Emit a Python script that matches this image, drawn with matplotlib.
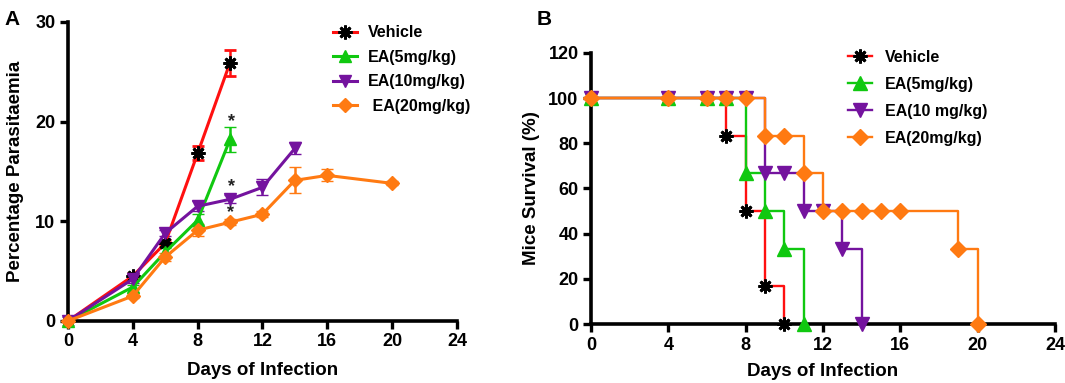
import numpy as np
import matplotlib.pyplot as plt
from matplotlib.lines import Line2D

plt.rcParams['font.family'] = ['Liberation Sans', 'DejaVu Sans']
plt.rcParams['font.weight'] = 'bold'

# Panel A: parasitaemia (%) over days of infection
veh_days = [0, 4, 6, 8, 10]
veh_vals = [0, 4.5, 7.8, 16.8, 25.9]
veh_err = [0, 0.3, 0.3, 0.7, 1.3]

ea5_days = [0, 4, 6, 8, 10]
ea5_vals = [0, 3.4, 6.9, 10.1, 18.2]
ea5_err = [0, 0.2, 0.4, 0.6, 1.3]

ea10_days = [0, 4, 6, 8, 10, 12, 14]
ea10_vals = [0, 4.2, 8.8, 11.5, 12.2, 13.4, 17.3]
ea10_err = [0, 0.4, 0.3, 0.5, 0.4, 0.8, 0.6]

ea20_days = [0, 4, 6, 8, 10, 12, 14, 16, 20]
ea20_vals = [0, 2.5, 6.4, 9.1, 9.9, 10.7, 14.1, 14.6, 13.8]
ea20_err = [0, 0.2, 0.4, 0.6, 0.3, 0.3, 1.3, 0.6, 0.2]

# significance stars (day, height)
star_x = [10.1, 10.1, 10.0]
star_y = [20.0, 13.5, 10.9]

# Panel B: survival (%)
veh_sdays = [0, 4, 6, 7, 8, 9, 10]
veh_surv = [100, 100, 100, 83.3, 50, 16.7, 0]
ea5_sdays = [0, 4, 6, 7, 8, 9, 10, 11]
ea5_surv = [100, 100, 100, 100, 66.7, 50, 33.3, 0]
ea10_sdays = [0, 4, 6, 7, 8, 9, 10, 11, 12, 13, 14]
ea10_surv = [100, 100, 100, 100, 100, 66.7, 66.7, 50, 50, 33.3, 0]
ea20_sdays = [0, 4, 6, 7, 8, 9, 10, 11, 12, 13, 14, 15, 16, 19, 20]
ea20_surv = [100, 100, 100, 100, 100, 83.3, 83.3, 66.7, 50, 50, 50, 50, 50, 33.3, 0]

red = '#FF1010'
green = '#10C810'
purple = '#74139E'
orange = '#FF7A12'
asterisk = (8, 2, 0)

fig = plt.figure(figsize=(10.65, 3.83), dpi=100)
axA = fig.add_axes([0.0638, 0.162, 0.3652, 0.781])
axB = fig.add_axes([0.555, 0.154, 0.4356, 0.708])


def style(ax):
    for s in ['top', 'right']:
        ax.spines[s].set_visible(False)
    for s in ['left', 'bottom']:
        ax.spines[s].set_linewidth(2.6)
    ax.tick_params(width=2.4, length=6, labelsize=13, pad=3)
    for lab in ax.get_xticklabels() + ax.get_yticklabels():
        lab.set_fontweight('bold')


# ---- Panel A ----
series_a = [
    (veh_days, veh_vals, veh_err, red, asterisk, 'black', 'Vehicle', 10),
    (ea5_days, ea5_vals, ea5_err, green, '^', green, 'EA(5mg/kg)', 9),
    (ea10_days, ea10_vals, ea10_err, purple, 'v', purple, 'EA(10mg/kg)', 9),
    (ea20_days, ea20_vals, ea20_err, orange, 'D', orange, ' EA(20mg/kg)', 7),
]
handles_a = []
for d, v, e, c, m, mc, lab, ms in series_a:
    mew = 2 if m == asterisk else 1
    axA.errorbar(d, v, yerr=e, color=c, lw=2.2, marker=m, ms=ms,
                 mfc=mc, mec=mc, mew=mew,
                 capsize=4, capthick=1.8, elinewidth=1.8,
                 clip_on=False, zorder=3)
    handles_a.append(Line2D([], [], color=c, lw=2.2, marker=m, ms=ms,
                            mfc=mc, mec=mc, mew=mew, label=lab))
for x, y in zip(star_x, star_y):
    axA.text(x, y, '*', ha='center', va='center', fontsize=13, color='#222222')

axA.set_xlim(0, 24)
axA.set_ylim(0, 30)
axA.set_xticks([0, 4, 8, 12, 16, 20, 24])
axA.set_yticks([0, 10, 20, 30])
axA.set_xlabel('Days of Infection', fontsize=13.5, fontweight='bold', labelpad=8)
axA.set_ylabel('Percentage Parasitaemia', fontsize=13.5, fontweight='bold', labelpad=8)
style(axA)
legA = axA.legend(handles=handles_a, loc='upper left', bbox_to_anchor=(0.665, 1.01),
                  frameon=False, fontsize=11.5, handlelength=1.5,
                  handletextpad=0.7, labelspacing=0.6, borderaxespad=0)
for t in legA.get_texts():
    t.set_fontweight('bold')
fig.text(0.004, 0.975, 'A', fontsize=15, fontweight='bold', va='top')

# ---- Panel B ----
series_b = [
    (veh_sdays, veh_surv, red, asterisk, 'black', 'Vehicle', 10),
    (ea5_sdays, ea5_surv, green, '^', green, 'EA(5mg/kg)', 10),
    (ea10_sdays, ea10_surv, purple, 'v', purple, 'EA(10 mg/kg)', 10),
    (ea20_sdays, ea20_surv, orange, 'D', orange, 'EA(20mg/kg)', 8.5),
]
handles_b = []
for d, s, c, m, mc, lab, ms in series_b:
    mew = 2 if m == asterisk else 1
    axB.step(d, s, where='post', color=c, lw=1.7, zorder=2, clip_on=False)
    axB.plot(d, s, ls='none', marker=m, ms=ms, mfc=mc, mec=mc,
             mew=mew, zorder=3, clip_on=False)
    handles_b.append(Line2D([], [], color=c, lw=1.7, marker=m, ms=ms,
                            mfc=mc, mec=mc, mew=mew, label=lab))

axB.set_xlim(0, 24)
axB.set_ylim(0, 120)
axB.set_xticks([0, 4, 8, 12, 16, 20, 24])
axB.set_yticks([0, 20, 40, 60, 80, 100, 120])
axB.set_xlabel('Days of Infection', fontsize=13.5, fontweight='bold', labelpad=7)
axB.set_ylabel('Mice Survival (%)', fontsize=13.5, fontweight='bold', labelpad=6)
style(axB)
legB = axB.legend(handles=handles_b, loc='upper left', bbox_to_anchor=(0.54, 1.035),
                  frameon=False, fontsize=11.5, handlelength=1.5,
                  handletextpad=0.8, labelspacing=0.75, borderaxespad=0)
for t in legB.get_texts():
    t.set_fontweight('bold')
fig.text(0.504, 0.975, 'B', fontsize=15, fontweight='bold', va='top')

fig.savefig('out.png', dpi=100)
